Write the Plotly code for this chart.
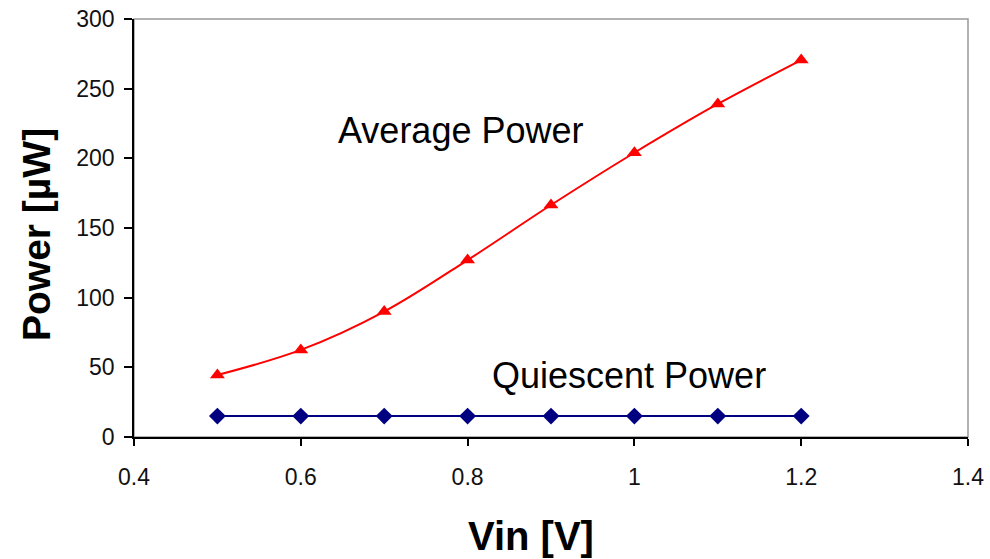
import plotly.graph_objects as go

vin = [0.5, 0.6, 0.7, 0.8, 0.9, 1.0, 1.1, 1.2]
avg_power = [44.5, 62.5, 90, 127, 166.5, 204, 239, 270.5]
quiescent_power = [15, 15, 15, 15, 15, 15, 15, 15]
x_ticks = [0.4, 0.6, 0.8, 1.0, 1.2, 1.4]
x_tick_text = ["0.4", "0.6", "0.8", "1", "1.2", "1.4"]
y_ticks = [0, 50, 100, 150, 200, 250, 300]

FONT = "Liberation Sans, Arial, sans-serif"
L, R, T, B = 134, 968, 19, 437


def px_x(p):
    return (p - L) / (R - L)


def px_y(p):
    return (B - p) / (B - T)


fig = go.Figure()
fig.add_trace(go.Scatter(
    x=vin, y=avg_power, mode="lines+markers", line=dict(color="#FF0000", width=2, shape="spline"),
    marker=dict(symbol="triangle-up", size=13, color="#FF0000"), name="Average Power"))
fig.add_trace(go.Scatter(
    x=vin, y=quiescent_power, mode="lines+markers", line=dict(color="#000080", width=2),
    marker=dict(symbol="diamond", size=13, color="#000080"), name="Quiescent Power"))

fig.update_layout(
    width=990, height=559,
    margin=dict(l=L, r=990 - R, t=T, b=559 - B, autoexpand=False),
    paper_bgcolor="white", plot_bgcolor="white",
    showlegend=False,
    font=dict(family=FONT, color="#111", size=23),
    xaxis=dict(range=[0.4, 1.4], tickvals=x_ticks, ticktext=x_tick_text, showgrid=False,
               zeroline=False, showline=True, linecolor="black", linewidth=1.5,
               ticks="outside", ticklen=7, tickcolor="black", tickwidth=1.5,
               ticklabelstandoff=12, tickfont=dict(size=23, family=FONT, color="#111"),
               automargin=False),
    yaxis=dict(range=[0, 300], tickvals=y_ticks, showgrid=False, zeroline=False,
               showline=True, linecolor="black", linewidth=1.5,
               ticks="outside", ticklen=8, tickcolor="black", tickwidth=1.5,
               ticklabelstandoff=5, tickfont=dict(size=23, family=FONT, color="#111"),
               automargin=False),
    shapes=[dict(type="rect", xref="paper", yref="paper", x0=0, y0=0, x1=1, y1=1,
                 line=dict(color="#999999", width=1.5), layer="below")],
    annotations=[
        dict(x=0.7915, y=220, xref="x", yref="y", text="Average Power", showarrow=False,
             font=dict(size=36, family=FONT, color="black")),
        dict(x=0.993, y=44, xref="x", yref="y", text="Quiescent Power", showarrow=False,
             font=dict(size=36, family=FONT, color="black")),
        dict(x=px_x(531), y=px_y(536), xref="paper", yref="paper", xanchor="center", yanchor="middle",
             text="<b>Vin [V]</b>", showarrow=False, font=dict(size=40, family=FONT, color="black")),
        dict(x=px_x(36), y=px_y(235), xref="paper", yref="paper", textangle=-90,
             xanchor="center", yanchor="middle",
             text="<b>Power [µW]</b>", showarrow=False, font=dict(size=39, family=FONT, color="black")),
    ],
)

fig.write_html("out.html")
